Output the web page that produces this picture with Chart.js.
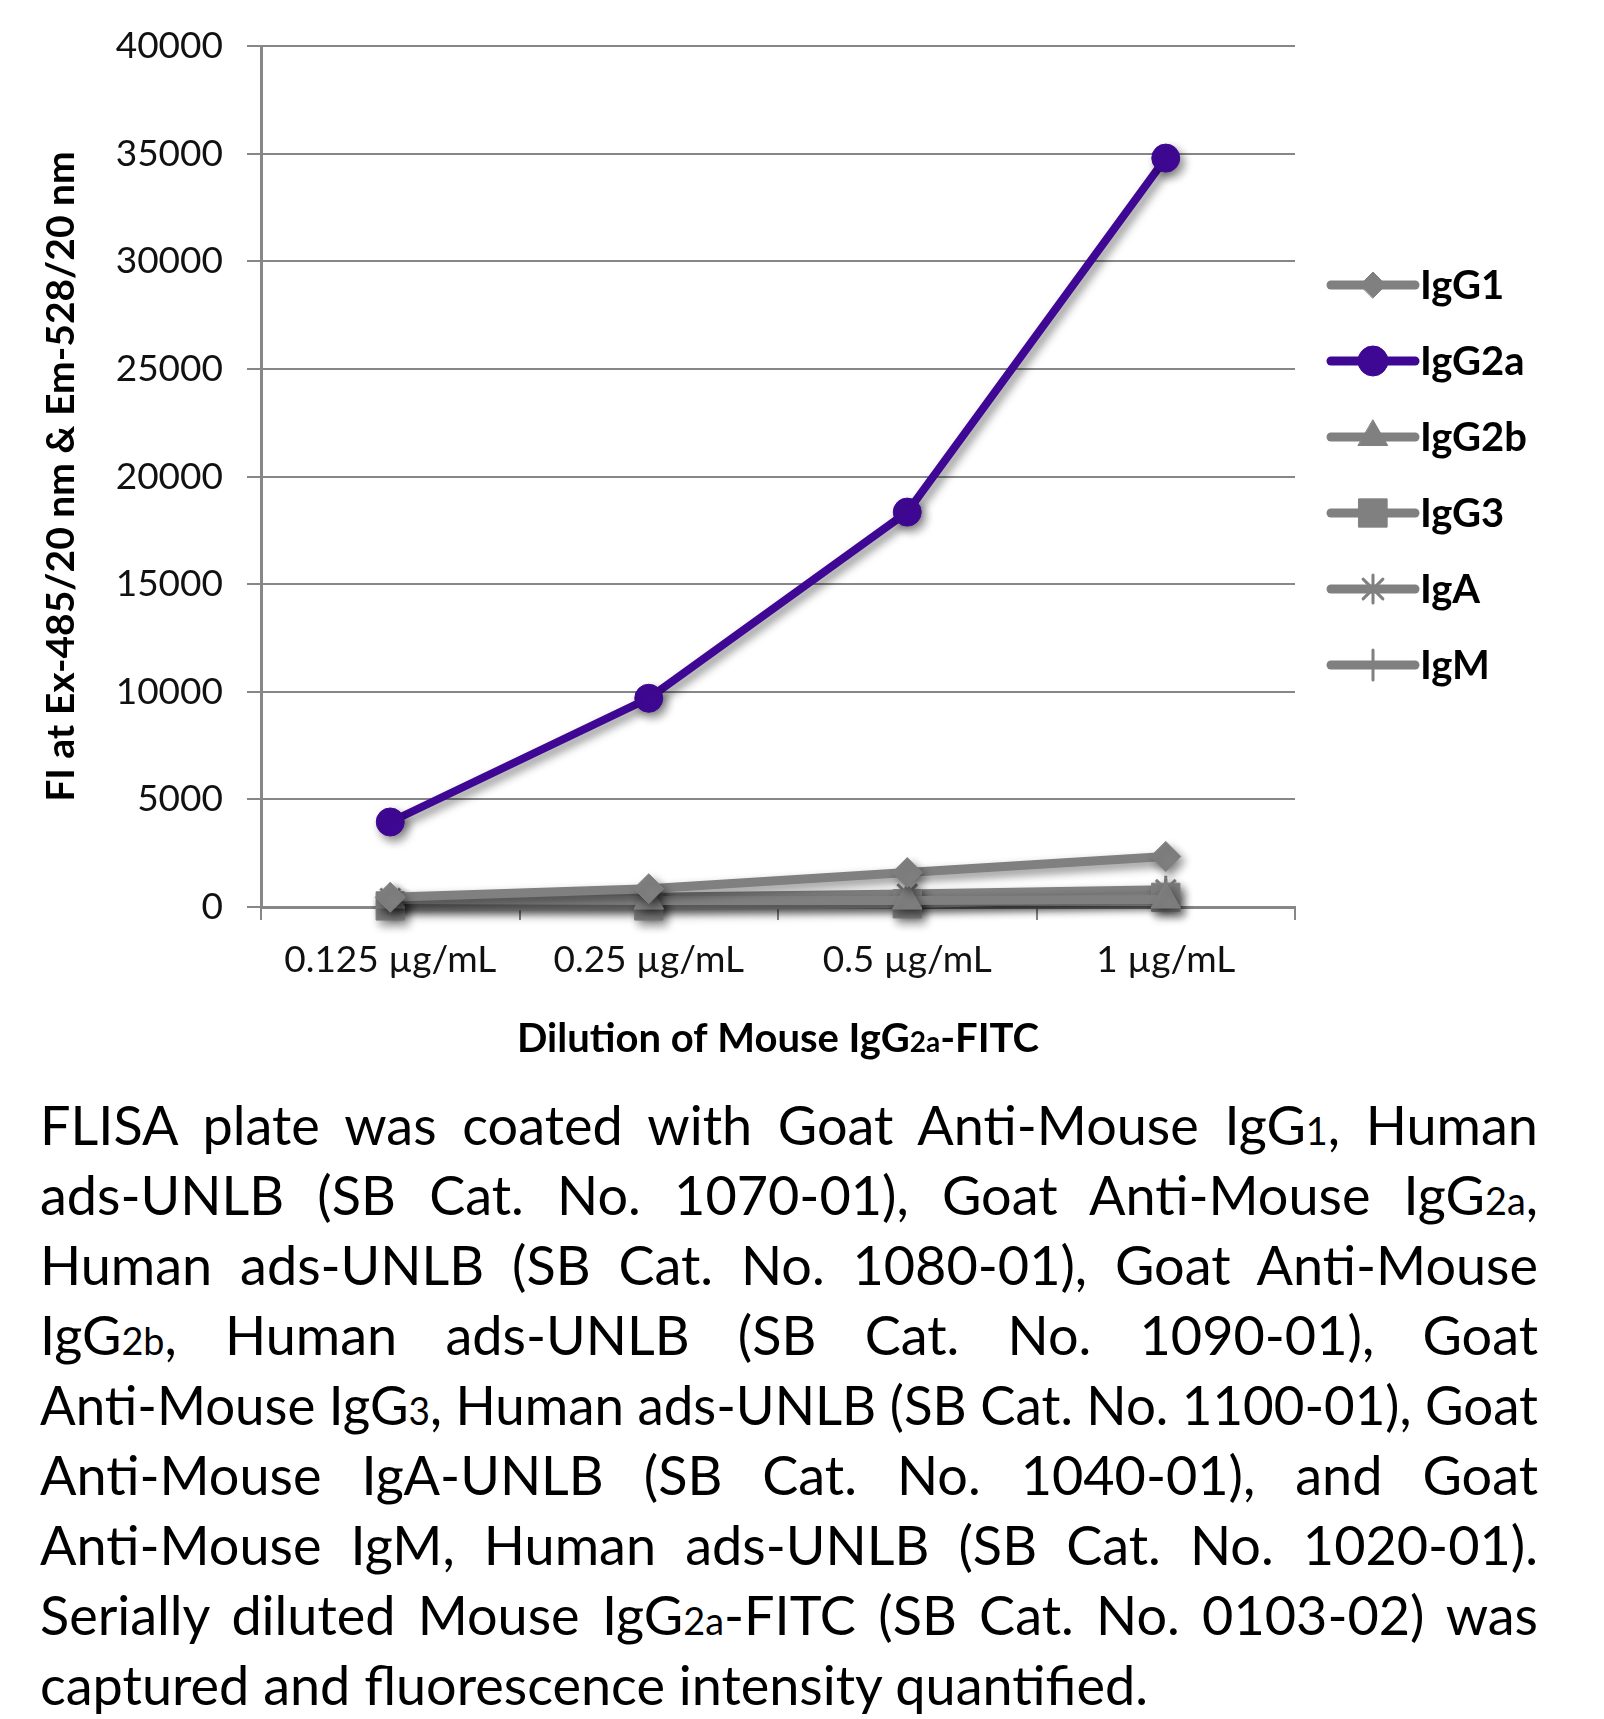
<!DOCTYPE html>
<html>
<head>
<meta charset="utf-8">
<script src="https://cdn.jsdelivr.net/npm/chart.js@4.4.1/dist/chart.umd.min.js"></script>
<style>
  body { margin: 0; background: #fff; width: 1604px; height: 1719px; overflow: hidden; position: relative; }
  #wrap { position: absolute; left: 0; top: 0; width: 1604px; height: 1075px; }
  #note { position: absolute; left: 40px; top: 1090px; width: 1498px; font-family: Lato, sans-serif; font-size: 54px; line-height: 70px; color: #000; }
  #note .ln { height: 70px; white-space: nowrap; transform-origin: 0 0; }
  #note small { font-size: 0.7em; line-height: 0; }
</style>
</head>
<body>
<div id="wrap"><canvas id="chart" width="1604" height="1075"></canvas></div>

<div id="note">
  <div class="ln"><span>FLISA plate was coated with Goat Anti-Mouse IgG<small>1</small>, Human</span></div>
  <div class="ln"><span>ads-UNLB (SB Cat. No. 1070-01), Goat Anti-Mouse IgG<small>2a</small>,</span></div>
  <div class="ln"><span>Human ads-UNLB (SB Cat. No. 1080-01), Goat Anti-Mouse</span></div>
  <div class="ln"><span>IgG<small>2b</small>, Human ads-UNLB (SB Cat. No. 1090-01), Goat</span></div>
  <div class="ln"><span>Anti-Mouse IgG<small>3</small>, Human ads-UNLB (SB Cat. No. 1100-01), Goat</span></div>
  <div class="ln"><span>Anti-Mouse IgA-UNLB (SB Cat. No. 1040-01), and Goat</span></div>
  <div class="ln"><span>Anti-Mouse IgM, Human ads-UNLB (SB Cat. No. 1020-01).</span></div>
  <div class="ln"><span>Serially diluted Mouse IgG<small>2a</small>-FITC (SB Cat. No. 0103-02) was</span></div>
  <div class="ln"><span>captured and fluorescence intensity quantified.</span></div>
</div>

<script>
// data
const doses = ['0.125 µg/mL', '0.25 µg/mL', '0.5 µg/mL', '1 µg/mL']
const seriesNames = ['IgG1', 'IgG2a', 'IgG2b', 'IgG3', 'IgA', 'IgM']
const igg1 = [450, 850, 1600, 2350]
const igg2a = [3950, 9700, 18350, 34800]
const igg2b = [350, 300, 300, 350]
const igg3 = [50, 50, 150, 450]
const iga = [400, 450, 600, 800]
const igm = [300, 350, 450, 650]
const yTicks = [0, 5000, 10000, 15000, 20000, 25000, 30000, 35000, 40000]

const GREY = '#808080'
const PURPLE = '#3f0894'
const AXIS = '#878787'

// justify each line of the caption by hand
const W = 1498
const lines = document.querySelectorAll('#note .ln')
lines.forEach((ln, i) => {
  const span = ln.firstElementChild
  const w = span.getBoundingClientRect().width
  if (w > W) {
    ln.style.transform = `scaleX(${W / w})`
  } else if (i < lines.length - 1) {
    const gaps = (span.textContent.match(/ /g) || []).length
    if (gaps) span.style.wordSpacing = ((W - w) / gaps) + 'px'
  }
})

Chart.defaults.font.family = 'Lato, sans-serif'
Chart.defaults.color = '#111'

function series(label, data, color, style, radius, lw) {
  return {
    label, data,
    borderColor: color,
    backgroundColor: color,
    pointBackgroundColor: color,
    pointBorderColor: color,
    pointStyle: style,
    pointRadius: radius,
    pointBorderWidth: (style === 'star' || style === 'cross') ? 3 : 1,
    borderWidth: lw,
    tension: 0,
    clip: false,
  }
}

const datasets = [
  series(seriesNames[0], igg1, GREY, 'rectRot', 15, 9),
  series(seriesNames[1], igg2a, PURPLE, 'circle', 14, 8),
  series(seriesNames[2], igg2b, GREY, 'triangle', 17, 9),
  series(seriesNames[3], igg3, GREY, 'rect', 20, 9),
  series(seriesNames[4], iga, GREY, 'star', 14, 9),
  series(seriesNames[5], igm, GREY, 'cross', 14, 9),
]
// legend marker sizes
const legendRadius = [13, 15, 17, 20, 14, 15]

// soft drop shadow under lines and markers
const shadowPlugin = {
  id: 'shadow',
  beforeDatasetsDraw(chart) {
    const ctx = chart.ctx
    ctx.save()
    ctx.shadowColor = 'rgba(0,0,0,0.45)'
    ctx.shadowBlur = 10
    ctx.shadowOffsetX = 4
    ctx.shadowOffsetY = 5
  },
  afterDatasetsDraw(chart) {
    chart.ctx.restore()
  }
}

// line + marker legend on the right
const legendPlugin = {
  id: 'sideLegend',
  afterDraw(chart) {
    const ctx = chart.ctx
    const x0 = 1331, x1 = 1415, mx = 1373, tx = 1420
    chart.data.datasets.forEach((ds, i) => {
      const y = 285 + i * 76
      ctx.save()
      ctx.strokeStyle = ds.borderColor
      ctx.lineWidth = 9
      ctx.lineCap = 'round'
      ctx.beginPath()
      ctx.moveTo(x0, y)
      ctx.lineTo(x1, y)
      ctx.stroke()
      ctx.fillStyle = ds.pointBackgroundColor
      ctx.strokeStyle = ds.pointBorderColor
      ctx.lineWidth = ds.pointBorderWidth
      Chart.helpers.drawPoint(ctx, {
        pointStyle: ds.pointStyle,
        radius: legendRadius[i],
        rotation: 0,
        borderWidth: ds.pointBorderWidth,
      }, mx, y)
      ctx.fillStyle = '#000'
      ctx.font = 'bold 40px Lato, sans-serif'
      ctx.textBaseline = 'middle'
      ctx.textAlign = 'left'
      ctx.fillText(ds.label, tx, y + 1)
      ctx.restore()
    })
  }
}

// x axis title with the small "2a"
const xTitlePlugin = {
  id: 'xTitle',
  afterDraw(chart) {
    const ctx = chart.ctx
    const parts = [
      ['Dilution of Mouse IgG', 'bold 40px Lato, sans-serif'],
      ['2a', 'bold 28px Lato, sans-serif'],
      ['-FITC', 'bold 40px Lato, sans-serif'],
    ]
    ctx.save()
    let total = 0
    parts.forEach(p => { ctx.font = p[1]; total += ctx.measureText(p[0]).width })
    const a = chart.chartArea
    let x = (a.left + a.right) / 2 - total / 2
    const y = 1052
    ctx.fillStyle = '#000'
    ctx.textBaseline = 'alphabetic'
    ctx.textAlign = 'left'
    parts.forEach(p => {
      ctx.font = p[1]
      ctx.fillText(p[0], x, y)
      x += ctx.measureText(p[0]).width
    })
    ctx.restore()
  }
}

new Chart(document.getElementById('chart'), {
  type: 'line',
  data: { labels: doses, datasets },
  options: {
    responsive: false,
    animation: false,
    layout: { padding: { top: 46, right: 309, left: 0, bottom: 0 } },
    plugins: {
      legend: { display: false },
      tooltip: { enabled: false },
    },
    scales: {
      x: {
        offset: true,
        grid: { offset: true, drawOnChartArea: false, color: AXIS, lineWidth: 2, tickLength: 13 },
        border: { color: AXIS, width: 3 },
        ticks: { font: { size: 37 }, color: '#111', padding: 18, maxRotation: 0 },
        afterFit(scale) { scale.height = 168 },
      },
      y: {
        min: yTicks[0],
        max: yTicks[yTicks.length - 1],
        afterBuildTicks(scale) { scale.ticks = yTicks.map(v => ({ value: v })) },
        grid: { color: AXIS, lineWidth: 2, tickLength: 14 },
        border: { color: AXIS, width: 3 },
        ticks: { font: { size: 37 }, color: '#111', padding: 24, callback: v => String(v) },
        title: {
          display: true,
          text: 'FI at Ex-485/20 nm & Em-528/20 nm',
          font: { size: 39, weight: 'bold' },
          color: '#000',
          padding: { top: 38, bottom: 0 },
        },
        afterFit(scale) { scale.width = 261 },
      },
    },
  },
  plugins: [shadowPlugin, legendPlugin, xTitlePlugin],
})
</script>
</body>
</html>
